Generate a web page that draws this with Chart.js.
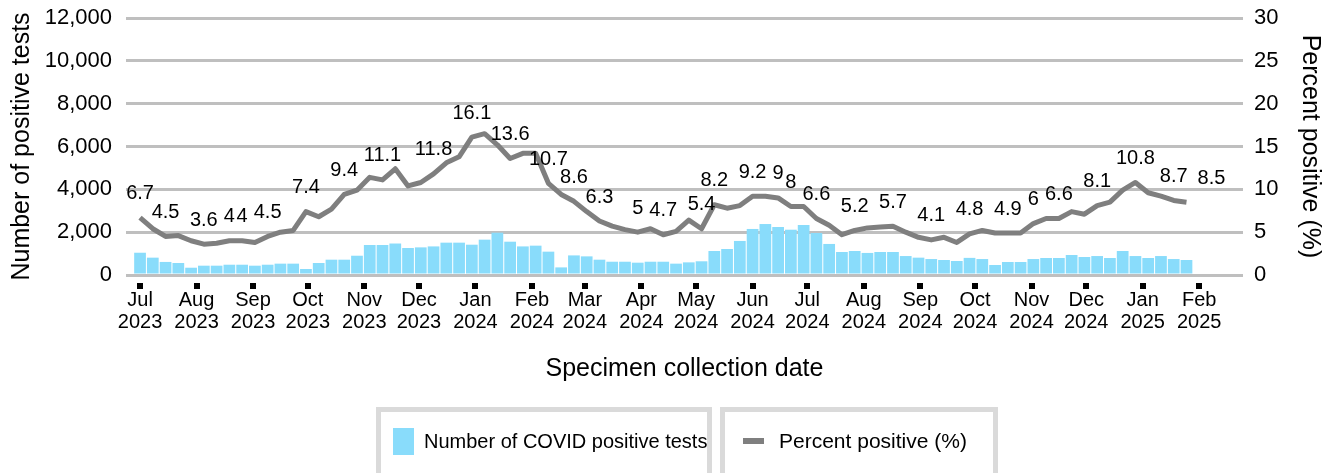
<!DOCTYPE html>
<html>
<head>
<meta charset="utf-8">
<script src="https://cdn.jsdelivr.net/npm/chart.js@4"></script>
<style>
html,body{margin:0;padding:0;background:#fff;}
#wrap{width:1328px;height:473px;position:relative;overflow:hidden;}
canvas{display:block;}
</style>
</head>
<body>
<div id="wrap"><canvas id="c" width="1328" height="473"></canvas></div>
<script>
// Week-ending dates (categories)
const weekDates = [
  '2023-07-01','2023-07-08','2023-07-15','2023-07-22','2023-07-29',
  '2023-08-05','2023-08-12','2023-08-19','2023-08-26',
  '2023-09-02','2023-09-09','2023-09-16','2023-09-23','2023-09-30',
  '2023-10-07','2023-10-14','2023-10-21','2023-10-28',
  '2023-11-04','2023-11-11','2023-11-18','2023-11-25',
  '2023-12-02','2023-12-09','2023-12-16','2023-12-23','2023-12-30',
  '2024-01-06','2024-01-13','2024-01-20','2024-01-27',
  '2024-02-03','2024-02-10','2024-02-17','2024-02-24',
  '2024-03-02','2024-03-09','2024-03-16','2024-03-23','2024-03-30',
  '2024-04-06','2024-04-13','2024-04-20','2024-04-27',
  '2024-05-04','2024-05-11','2024-05-18','2024-05-25',
  '2024-06-01','2024-06-08','2024-06-15','2024-06-22','2024-06-29',
  '2024-07-06','2024-07-13','2024-07-20','2024-07-27',
  '2024-08-03','2024-08-10','2024-08-17','2024-08-24','2024-08-31',
  '2024-09-07','2024-09-14','2024-09-21','2024-09-28',
  '2024-10-05','2024-10-12','2024-10-19','2024-10-26',
  '2024-11-02','2024-11-09','2024-11-16','2024-11-23','2024-11-30',
  '2024-12-07','2024-12-14','2024-12-21','2024-12-28',
  '2025-01-04','2025-01-11','2025-01-18','2025-01-25'
];

// Number of COVID positive tests (left axis)
const positiveTests = [
  1040, 810, 610, 560, 340, 435, 435, 480, 480, 435,
  480, 530, 530, 280, 560, 715, 715, 900, 1400, 1400,
  1470, 1260, 1290, 1335, 1510, 1510, 1415, 1650, 1975, 1555,
  1335, 1370, 1090, 355, 915, 870, 715, 620, 620, 575,
  620, 620, 530, 590, 640, 1120, 1215, 1590, 2150, 2380,
  2240, 2115, 2335, 1960, 1450, 1075, 1120, 1030, 1075, 1075,
  885, 810, 745, 700, 655, 800, 745, 467, 607, 607,
  745, 795, 795, 935, 840, 885, 795, 1120, 885, 795,
  885, 745, 700
];

// Percent positive (right axis)
const percentPositive = [
  6.7, 5.4, 4.5, 4.6, 4.0, 3.6, 3.7, 4.0, 4.0, 3.8,
  4.5, 5.0, 5.2, 7.4, 6.8, 7.7, 9.4, 9.9, 11.4, 11.1,
  12.4, 10.4, 10.8, 11.8, 13.1, 13.8, 16.1, 16.5, 15.2, 13.6,
  14.2, 14.2, 10.7, 9.4, 8.6, 7.4, 6.3, 5.7, 5.3, 5.0,
  5.4, 4.7, 5.1, 6.4, 5.4, 8.2, 7.8, 8.1, 9.2, 9.2,
  9.0, 8.0, 8.0, 6.6, 5.8, 4.7, 5.2, 5.5, 5.6, 5.7,
  5.0, 4.4, 4.1, 4.4, 3.8, 4.8, 5.2, 4.9, 4.9, 4.9,
  6.0, 6.6, 6.6, 7.4, 7.1, 8.1, 8.5, 9.9, 10.8, 9.6,
  9.2, 8.7, 8.5
];

// Weeks whose percent value is printed
const labeledWeeks = [0,2,5,7,8,10,13,16,19,23,26,29,32,34,36,39,41,44,45,48,50,51,53,56,59,62,65,68,70,72,75,78,81,82];

// Month tick positions and labels
const monthTicks = [
  '2023-07-01','2023-08-01','2023-09-01','2023-10-01','2023-11-01','2023-12-01',
  '2024-01-01','2024-02-01','2024-03-01','2024-04-01','2024-05-01','2024-06-01',
  '2024-07-01','2024-08-01','2024-09-01','2024-10-01','2024-11-01','2024-12-01',
  '2025-01-01','2025-02-01'
];
const monthLabels = [
  ['Jul','2023'],['Aug','2023'],['Sep','2023'],['Oct','2023'],['Nov','2023'],['Dec','2023'],
  ['Jan','2024'],['Feb','2024'],['Mar','2024'],['Apr','2024'],['May','2024'],['Jun','2024'],
  ['Jul','2024'],['Aug','2024'],['Sep','2024'],['Oct','2024'],['Nov','2024'],['Dec','2024'],
  ['Jan','2025'],['Feb','2025']
];

const ORIGIN = Date.parse('2023-07-01T00:00:00Z');
function dayOf(s){ return (Date.parse(s + 'T00:00:00Z') - ORIGIN) / 86400000; }

const FONT = "'Liberation Sans', Arial, Helvetica, sans-serif";
Chart.defaults.font.family = FONT;
Chart.defaults.color = '#000';

const extras = {
  id: 'extras',
  afterDatasetsDraw(chart) {
    const ctx = chart.ctx;
    const meta = chart.getDatasetMeta(1);
    ctx.save();
    ctx.font = '20px ' + FONT;
    ctx.fillStyle = '#000';
    ctx.textAlign = 'center';
    ctx.textBaseline = 'middle';
    const last = percentPositive.length - 1;
    labeledWeeks.forEach(i => {
      const p = meta.data[i];
      const dx = (i === last) ? 25 : 0;
      ctx.fillText(String(percentPositive[i]), p.x + dx, p.y - 24);
    });
    ctx.restore();
  },
  afterDraw(chart) {
    const ctx = chart.ctx;
    const xs = chart.scales.x;
    ctx.save();
    ctx.fillStyle = '#000';
    xs.ticks.forEach(t => {
      const px = Math.round(xs.getPixelForValue(t.value));
      ctx.fillRect(px - 3, 283, 6, 6);
    });
    const boxes = [{x: 376, w: 336, fs: 20, tx: 48}, {x: 720, w: 278, fs: 21, tx: 59}];
    chart.data.datasets.forEach((ds, k) => {
      const b = boxes[k];
      ctx.strokeStyle = '#DADADA';
      ctx.lineWidth = 5;
      ctx.strokeRect(b.x + 2.5, 409.5, b.w - 5, 90);
      if (ds.type === 'bar') {
        ctx.fillStyle = ds.backgroundColor;
        ctx.fillRect(b.x + 17, 428, 21, 27);
      } else {
        ctx.fillStyle = ds.borderColor;
        ctx.fillRect(b.x + 23, 438, 21, 6);
      }
      ctx.fillStyle = '#000';
      ctx.font = b.fs + 'px ' + FONT;
      ctx.textAlign = 'left';
      ctx.textBaseline = 'middle';
      ctx.fillText(ds.label, b.x + b.tx, 442);
    });
    ctx.restore();
  }
};

function noEdgePad(s) { s.paddingTop = 0; s.paddingBottom = 0; }

new Chart(document.getElementById('c'), {
  type: 'bar',
  data: {
    datasets: [
      {
        type: 'bar',
        label: 'Number of COVID positive tests',
        data: weekDates.map((d, i) => ({x: dayOf(d), y: positiveTests[i]})),
        backgroundColor: '#89DCFB',
        yAxisID: 'y',
        order: 2,
        categoryPercentage: 1,
        barPercentage: 0.92
      },
      {
        type: 'line',
        label: 'Percent positive (%)',
        data: weekDates.map((d, i) => ({x: dayOf(d), y: percentPositive[i]})),
        borderColor: '#7F7F7F',
        backgroundColor: '#7F7F7F',
        borderWidth: 5,
        pointRadius: 0,
        tension: 0,
        borderJoinStyle: 'round',
        yAxisID: 'y1',
        order: 1
      }
    ]
  },
  options: {
    responsive: false,
    animation: false,
    layout: {padding: {top: 18, left: 0, right: 0, bottom: 0}},
    plugins: {legend: {display: false}, tooltip: {enabled: false}},
    scales: {
      x: {
        type: 'linear',
        min: -7.7,
        max: 605,
        offset: false,
        grid: {display: false, drawTicks: false},
        border: {display: false},
        afterBuildTicks: s => { s.ticks = monthTicks.map(d => ({value: dayOf(d)})); },
        ticks: {
          autoSkip: false, maxRotation: 0, minRotation: 0, padding: 15,
          font: {size: 20, lineHeight: 1.08}, color: '#000',
          callback: (v, i) => monthLabels[i]
        },
        title: {display: true, text: 'Specimen collection date', font: {size: 25}, color: '#000', padding: {top: 0, bottom: 89}},
        afterFit: s => { s.height = 198; }
      },
      y: {
        position: 'left',
        min: 0, max: 12000,
        ticks: {stepSize: 2000, padding: 14, font: {size: 22}, color: '#000', callback: v => v.toLocaleString('en-US')},
        grid: {color: '#BFBFBF', lineWidth: 3, drawTicks: false},
        border: {display: false},
        title: {display: true, text: 'Number of positive tests', font: {size: 25}, color: '#000', padding: {top: 7, bottom: 0}},
        afterFit: s => { s.width = 126; noEdgePad(s); }
      },
      y1: {
        position: 'right',
        min: 0, max: 30,
        ticks: {stepSize: 5, padding: 11, font: {size: 22}, color: '#000'},
        grid: {display: false, drawTicks: false},
        border: {display: false},
        title: {display: true, text: 'Percent positive (%)', font: {size: 25}, color: '#000', padding: {top: 3, bottom: 0}},
        afterFit: s => { s.width = 85; noEdgePad(s); }
      }
    }
  },
  plugins: [extras]
});
</script>
</body>
</html>
